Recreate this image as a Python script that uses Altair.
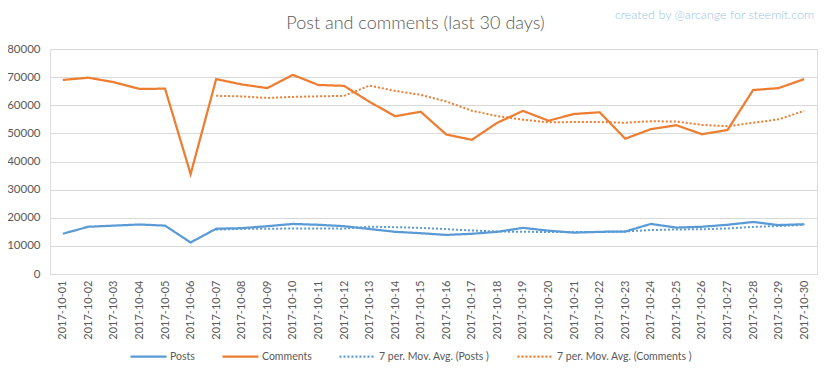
import altair as alt
import pandas as pd

dates = ["2017-10-01", "2017-10-02", "2017-10-03", "2017-10-04", "2017-10-05",
         "2017-10-06", "2017-10-07", "2017-10-08", "2017-10-09", "2017-10-10",
         "2017-10-11", "2017-10-12", "2017-10-13", "2017-10-14", "2017-10-15",
         "2017-10-16", "2017-10-17", "2017-10-18", "2017-10-19", "2017-10-20",
         "2017-10-21", "2017-10-22", "2017-10-23", "2017-10-24", "2017-10-25",
         "2017-10-26", "2017-10-27", "2017-10-28", "2017-10-29", "2017-10-30"]
posts = [14300, 16800, 17200, 17600, 17200, 11200, 16100, 16300, 17000, 17800,
         17500, 17000, 16000, 15000, 14500, 13900, 14300, 15000, 16400, 15400,
         14700, 15000, 15100, 17800, 16500, 16800, 17500, 18500, 17400, 17700]
comments = [69000, 69800, 68200, 65800, 65900, 35500, 69300, 67400, 66100, 70800,
            67200, 66900, 61200, 56100, 57700, 49600, 47700, 53800, 58000, 54500,
            56900, 57500, 48100, 51500, 52900, 49700, 51200, 65400, 66100, 69300]
series_names = ["Posts", "Comments", "7 per. Mov. Avg. (Posts )", "7 per. Mov. Avg. (Comments )"]
series_colors = ["#5B9BD5", "#ED7D31", "#5B9BD5", "#ED7D31"]
y_ticks = [0, 10000, 20000, 30000, 40000, 50000, 60000, 70000, 80000]
title_text = "Post and comments (last 30 days)"
watermark = "created by @arcange for steemit.com"

rows = [{"date": d, "metric": "Posts", "value": v} for d, v in zip(dates, posts)]
rows += [{"date": d, "metric": "Comments", "value": v} for d, v in zip(dates, comments)]
df = pd.DataFrame(rows)

FONT = "Lato"
GREY = "#595959"

legend = alt.Legend(title=None, orient="none", legendX=79, legendY=288,
                    direction="horizontal", symbolType="stroke",
                    symbolSize=1300, symbolStrokeWidth=2.25,
                    labelFont=FONT, labelFontSize=10.5, labelColor=GREY,
                    columnPadding=22, labelOffset=2)
color = alt.Color("series:N", scale=alt.Scale(domain=series_names, range=series_colors),
                  legend=legend)
dash = alt.StrokeDash("series:N", scale=alt.Scale(domain=series_names,
                                                  range=[[1, 0], [1, 0], [2, 2], [2, 2]]),
                      legend=legend)

x = alt.X("date:O", sort=dates, scale=alt.Scale(paddingOuter=0.5),
          axis=alt.Axis(title=None, labelAngle=270, ticks=False, domain=False, grid=False,
                        labelPadding=6, labelFont=FONT, labelFontSize=11, labelColor=GREY))
yaxis = alt.Axis(title=None, values=y_ticks, format="d", ticks=False, domain=False,
                 gridColor="#D9D9D9", gridWidth=1, labelPadding=10,
                 labelFont=FONT, labelFontSize=11.5, labelColor=GREY)
yscale = alt.Scale(domain=[0, 80000], nice=False)

base = alt.Chart(df)

raw = base.transform_calculate(series="datum.metric").mark_line(strokeWidth=2.25).encode(
    x=x, y=alt.Y("value:Q", scale=yscale, axis=yaxis), color=color, strokeDash=dash,
    order=alt.Order("date:O"))

ma = base.transform_window(
    ma="mean(value)", n="count()", frame=[-6, 0], groupby=["metric"],
    sort=[alt.SortField("date")]
).transform_filter("datum.n >= 7").transform_calculate(
    series="'7 per. Mov. Avg. (' + datum.metric + ' )'"
).mark_line(strokeWidth=2).encode(
    x=x, y=alt.Y("ma:Q", scale=yscale, axis=yaxis), color=color, strokeDash=dash,
    order=alt.Order("date:O"))

wm = alt.Chart(pd.DataFrame({"t": [watermark]})).mark_text(
    align="right", baseline="middle", color="#9DC3E6", font=FONT, fontSize=12.5,
    fontWeight=300).encode(text="t:N", x=alt.value(764), y=alt.value(-34))

chart = alt.layer(raw, ma, wm).properties(
    width=767, height=225,
    autosize=alt.AutoSizeParams(type="none"),
    padding={"left": 42, "top": 41, "right": 7, "bottom": 96},
    title=alt.TitleParams(title_text, fontSize=18, font=FONT, fontWeight=300, color=GREY,
                          anchor="middle", dx=-18, offset=-24),
).configure_view(stroke=None).configure(background="white")

chart.save("out.html", embed_options={"renderer": "svg", "actions": False})
